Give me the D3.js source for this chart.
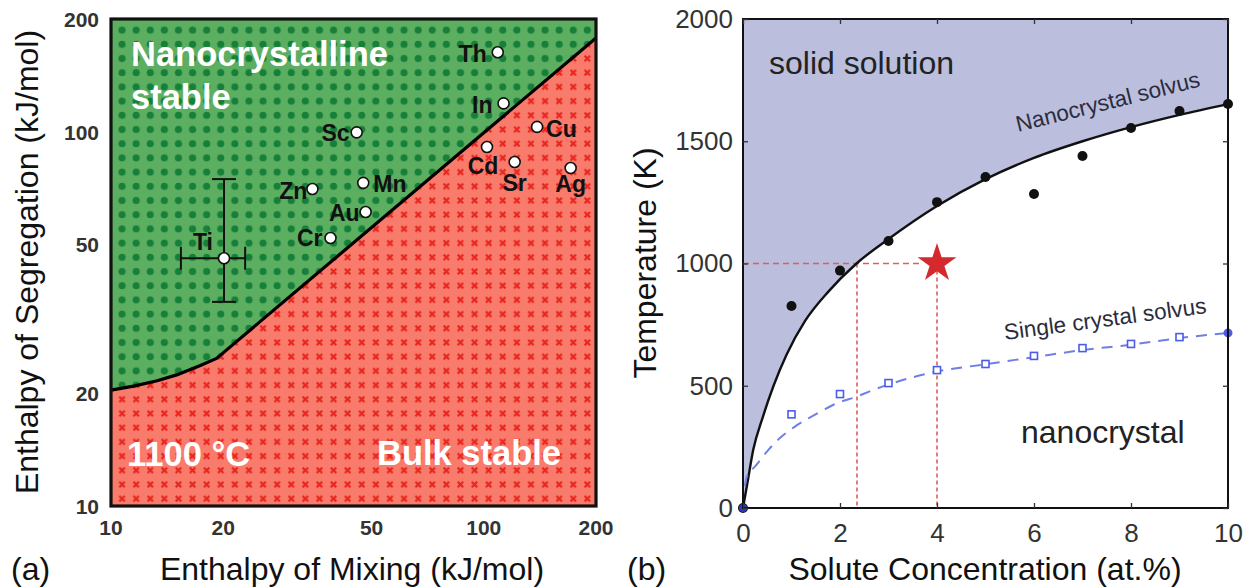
<!DOCTYPE html>
<html>
<head>
<meta charset="utf-8">
<script src="https://cdn.jsdelivr.net/npm/d3@7"></script>
<style>
  html, body { margin: 0; padding: 0; background: #fff; }
  svg { display: block; }
  text { font-family: "Liberation Sans", Arial, Helvetica, sans-serif; }
</style>
</head>
<body>
<svg id="fig" width="1247" height="587"></svg>
<script>
// ---------- Panel (a): stability map at 1100 °C ----------
const mixTicks = [10, 20, 50, 100, 200];
const segTicks = [10, 20, 50, 100, 200];

const elements = ["Th", "In", "Sc", "Cu", "Cd", "Sr", "Ag", "Mn", "Au", "Cr", "Zn", "Ti"];
const mixEnthalpy = [109, 113, 45.6, 139, 102, 121, 171, 47.5, 48.2, 38.8, 34.7, 20.1];
const segEnthalpy = [163, 119, 99.6, 103, 91, 83, 80, 73, 61, 52, 70.3, 45.9];

// uncertainty of the Ti estimate
const tiMixRange = [15.4, 22.9];
const tiSegRange = [35.1, 74.7];

// boundary between the nanocrystalline-stable and bulk-stable regions
const boundaryMix = [10, 11.5, 13.3, 15, 17.3, 19.2, 200];
const boundarySeg = [20.4, 20.9, 21.6, 22.4, 23.7, 24.8, 178];

// ---------- Panel (b): solvus curves ----------
const concTicks = [0, 2, 4, 6, 8, 10];
const tempTicks = [0, 500, 1000, 1500, 2000];

const nanoConc = [0, 1, 2, 3, 4, 5, 6, 7, 8, 9, 10];
const nanoTemp = [0, 826, 971, 1092, 1251, 1354, 1284, 1440, 1554, 1624, 1652];

const singleConc = [1, 2, 3, 4, 5, 6, 7, 8, 9];
const singleTemp = [383, 466, 511, 564, 589, 622, 654, 671, 699];
const singleEndConc = 10, singleEndTemp = 716;

const nanoSolvusConc = [0, 0.09, 0.21, 0.41, 0.63, 0.9, 1.28, 1.76, 2.34, 3, 4, 5, 6, 7, 8, 9, 10];
const nanoSolvusTemp = [0, 101, 237, 373, 500, 628, 765, 885, 1000, 1100, 1235, 1345, 1432, 1500, 1558, 1608, 1652];

const singleSolvusConc = [0.04, 0.08, 0.25, 0.52, 0.76, 1.07, 1.35, 1.65, 1.93, 2.34, 2.65, 3, 4, 5, 6, 7, 8, 9, 10];
const singleSolvusTemp = [90, 128, 170, 237, 286, 333, 367, 400, 428, 455, 480, 505, 558, 588, 617, 646, 668, 695, 716];

const markerConc = 4, markerTemp = 1000;
const crossingConc = 2.35;

// ---------- drawing ----------
const svg = d3.select("#fig");
const defs = svg.append("defs");

// dotted green fill
const pg = defs.append("pattern").attr("id", "greenDots")
  .attr("patternUnits", "userSpaceOnUse").attr("width", 14.1).attr("height", 14.2)
  .attr("x", 115).attr("y", 23);
pg.append("rect").attr("width", 14.1).attr("height", 14.2).attr("fill", "#5cae60");
pg.append("circle").attr("cx", 7.05).attr("cy", 7.1).attr("r", 3.6).attr("fill", "#16803a");

// crossed red fill
const pr = defs.append("pattern").attr("id", "redCross")
  .attr("patternUnits", "userSpaceOnUse").attr("width", 14.1).attr("height", 14.2)
  .attr("x", 115).attr("y", 23);
pr.append("rect").attr("width", 14.1).attr("height", 14.2).attr("fill", "#f97b6c");
pr.append("path").attr("d", "M4.3,4.4L9.8,9.8M9.8,4.4L4.3,9.8")
  .attr("stroke", "#e8251f").attr("stroke-width", 2.1);

defs.append("clipPath").attr("id", "clipA").append("rect")
  .attr("x", 111).attr("y", 19).attr("width", 485).attr("height", 487);
defs.append("clipPath").attr("id", "clipB").append("rect")
  .attr("x", 743).attr("y", 19).attr("width", 485).attr("height", 489);

// ===== Panel (a) =====
const xA = d3.scaleLog().domain([10, 200]).range([111, 596]);
const yA = d3.scaleLog().domain([10, 200]).range([506, 19]);

const gA = svg.append("g");
gA.append("rect").attr("x", 111).attr("y", 19).attr("width", 485).attr("height", 487)
  .attr("fill", "url(#redCross)");

const boundary = boundaryMix.map((m, i) => [m, boundarySeg[i]]);
gA.append("path").datum(boundary)
  .attr("clip-path", "url(#clipA)")
  .attr("fill", "url(#greenDots)")
  .attr("d", d3.area().x(d => xA(d[0])).y0(yA(200)).y1(d => yA(d[1])));
gA.append("path").datum(boundary)
  .attr("fill", "none").attr("stroke", "#000").attr("stroke-width", 3.2)
  .attr("stroke-linejoin", "round")
  .attr("d", d3.line().x(d => xA(d[0])).y(d => yA(d[1])));

// region labels
const whiteBold = sel => sel.attr("fill", "#fff").attr("font-weight", "bold").attr("font-size", 34.5);
gA.append("text").attr("x", 131).attr("y", 66).text("Nanocrystalline").call(whiteBold);
gA.append("text").attr("x", 131).attr("y", 109).text("stable").call(whiteBold);
gA.append("text").attr("x", 127).attr("y", 466).text("1100 °C").call(whiteBold);
gA.append("text").attr("x", 377).attr("y", 465).text("Bulk stable").call(whiteBold);

// Ti error bars
const tiX = xA(mixEnthalpy[11]), tiY = yA(segEnthalpy[11]);
const eb = gA.append("g").attr("stroke", "#111").attr("stroke-width", 2);
eb.append("line").attr("x1", xA(tiMixRange[0])).attr("x2", xA(tiMixRange[1])).attr("y1", tiY).attr("y2", tiY);
eb.append("line").attr("x1", tiX).attr("x2", tiX).attr("y1", yA(tiSegRange[0])).attr("y2", yA(tiSegRange[1]));
tiMixRange.forEach(v => eb.append("line").attr("x1", xA(v)).attr("x2", xA(v)).attr("y1", tiY - 11.5).attr("y2", tiY + 11.5));
tiSegRange.forEach(v => eb.append("line").attr("x1", tiX - 12).attr("x2", tiX + 12).attr("y1", yA(v)).attr("y2", yA(v)));

// element markers and labels
const labelPlacement = {
  Th: { dx: -11, dy: 10, anchor: "end" },
  In: { dx: -11, dy: 10, anchor: "end" },
  Sc: { dx: -7, dy: 9, anchor: "end" },
  Cu: { dx: 9, dy: 10, anchor: "start" },
  Cd: { dx: -4, dy: 27, anchor: "middle" },
  Sr: { dx: 0, dy: 29, anchor: "middle" },
  Ag: { dx: 0, dy: 24, anchor: "middle" },
  Mn: { dx: 10, dy: 9, anchor: "start" },
  Au: { dx: -6, dy: 9, anchor: "end" },
  Cr: { dx: -8, dy: 8, anchor: "end" },
  Zn: { dx: -5, dy: 10, anchor: "end" },
  Ti: { dx: -11, dy: -8, anchor: "end" }
};
elements.forEach((el, i) => {
  const px = xA(mixEnthalpy[i]), py = yA(segEnthalpy[i]);
  const lp = labelPlacement[el];
  gA.append("text").attr("x", px + lp.dx).attr("y", py + lp.dy)
    .attr("text-anchor", lp.anchor).attr("font-weight", "bold").attr("font-size", 23)
    .attr("fill", "#111").text(el);
});
elements.forEach((el, i) => {
  gA.append("circle").attr("cx", xA(mixEnthalpy[i])).attr("cy", yA(segEnthalpy[i])).attr("r", 5.5)
    .attr("fill", "#fff").attr("stroke", "#111").attr("stroke-width", 1.6);
});

// frame
gA.append("rect").attr("x", 111).attr("y", 19).attr("width", 485).attr("height", 487)
  .attr("fill", "none").attr("stroke", "#111").attr("stroke-width", 3.2);

// log axes (labels only)
const axA = gA.append("g").attr("font-weight", "bold").attr("font-size", 21).attr("fill", "#333");
mixTicks.forEach(t => axA.append("text").attr("x", xA(t)).attr("y", 535).attr("text-anchor", "middle").text(t));
segTicks.forEach(t => axA.append("text").attr("x", 99).attr("y", yA(t) + 8).attr("text-anchor", "end").text(t));

const titleStyle = sel => sel.attr("font-size", 32).attr("fill", "#111");
svg.append("text").attr("transform", "translate(38,262) rotate(-90)").attr("text-anchor", "middle")
  .text("Enthalpy of Segregation (kJ/mol)").call(titleStyle);
svg.append("text").attr("x", 352).attr("y", 580).attr("text-anchor", "middle")
  .text("Enthalpy of Mixing (kJ/mol)").call(titleStyle);
svg.append("text").attr("x", 11).attr("y", 580).text("(a)").call(titleStyle);

// ===== Panel (b) =====
const xB = d3.scaleLinear().domain([0, 10]).range([743, 1228]);
const yB = d3.scaleLinear().domain([0, 2000]).range([508, 19]);
const gB = svg.append("g");

const nanoSolvus = nanoSolvusConc.map((c, i) => [c, nanoSolvusTemp[i]]);
const singleSolvus = singleSolvusConc.map((c, i) => [c, singleSolvusTemp[i]]);

gB.append("path").datum(nanoSolvus).attr("clip-path", "url(#clipB)")
  .attr("fill", "#bbbedc")
  .attr("d", d3.area().x(d => xB(d[0])).y0(yB(2000)).y1(d => yB(d[1])).curve(d3.curveMonotoneX));

// guide lines to the marked state
const guide = gB.append("g").attr("stroke", "#d9605c").attr("stroke-width", 1.6).attr("fill", "none");
guide.append("line").attr("x1", xB(0)).attr("x2", xB(markerConc) - 18)
  .attr("y1", yB(markerTemp)).attr("y2", yB(markerTemp)).attr("stroke-dasharray", "6,4");
guide.append("line").attr("x1", xB(crossingConc)).attr("x2", xB(crossingConc))
  .attr("y1", yB(markerTemp)).attr("y2", yB(0)).attr("stroke-dasharray", "4,3");
guide.append("line").attr("x1", xB(markerConc)).attr("x2", xB(markerConc))
  .attr("y1", yB(markerTemp)).attr("y2", yB(0)).attr("stroke-dasharray", "4,3");

gB.append("path").datum(nanoSolvus).attr("fill", "none").attr("stroke", "#111").attr("stroke-width", 2.4)
  .attr("d", d3.line().x(d => xB(d[0])).y(d => yB(d[1])).curve(d3.curveMonotoneX));
gB.append("path").datum(singleSolvus).attr("fill", "none").attr("stroke", "#6f7fe6").attr("stroke-width", 2)
  .attr("stroke-dasharray", "11,8")
  .attr("d", d3.line().x(d => xB(d[0])).y(d => yB(d[1])).curve(d3.curveMonotoneX));

// simulated points
nanoConc.forEach((c, i) => gB.append("circle").attr("cx", xB(c)).attr("cy", yB(nanoTemp[i]))
  .attr("r", 5).attr("fill", "#111"));
singleConc.forEach((c, i) => gB.append("rect")
  .attr("x", xB(c) - 3.5).attr("y", yB(singleTemp[i]) - 3.5).attr("width", 7).attr("height", 7)
  .attr("fill", "#fff").attr("stroke", "#4b5ce6").attr("stroke-width", 1.6));
gB.append("circle").attr("cx", xB(singleEndConc)).attr("cy", yB(singleEndTemp)).attr("r", 4.5).attr("fill", "#4b5ce6");
gB.append("circle").attr("cx", xB(0)).attr("cy", yB(0)).attr("r", 4).attr("fill", "#2b3bc0");

// marked state
gB.append("path").attr("transform", `translate(${xB(markerConc)},${yB(markerTemp)})`)
  .attr("d", d3.symbol(d3.symbolStar, 470)()).attr("fill", "#d42a2e");

// region and curve labels
gB.append("text").attr("x", 769).attr("y", 74).attr("font-size", 32).attr("fill", "#222").text("solid solution");
gB.append("text").attr("x", 1021).attr("y", 443).attr("font-size", 32).attr("fill", "#222").text("nanocrystal");
gB.append("text").attr("transform", "translate(1018,132) rotate(-14)").attr("font-size", 22.5)
  .attr("fill", "#2a2c3c").text("Nanocrystal solvus");
gB.append("text").attr("transform", "translate(1005,340) rotate(-7.6)").attr("font-size", 22.5)
  .attr("fill", "#2a2c3c").text("Single crystal solvus");

// frame and axes
gB.append("rect").attr("x", 743).attr("y", 19).attr("width", 485).attr("height", 489)
  .attr("fill", "none").attr("stroke", "#111").attr("stroke-width", 2);

const fmt = d3.format("d");
const bottomAxis = d3.axisBottom(xB).tickValues(concTicks).tickSizeInner(-5).tickSizeOuter(0).tickPadding(16).tickFormat(fmt);
const leftAxis = d3.axisLeft(yB).tickValues(tempTicks).tickSizeInner(-5).tickSizeOuter(0).tickPadding(10).tickFormat(fmt);
const topAxis = d3.axisTop(xB).tickValues(concTicks).tickSizeInner(-5).tickSizeOuter(0).tickFormat("");
const rightAxis = d3.axisRight(yB).tickValues(tempTicks).tickSizeInner(-5).tickSizeOuter(0).tickFormat("");
[
  [bottomAxis, "translate(0,508)"],
  [leftAxis, "translate(743,0)"],
  [topAxis, "translate(0,19)"],
  [rightAxis, "translate(1228,0)"]
].forEach(([ax, tr]) => {
  const g = gB.append("g").attr("transform", tr).call(ax);
  g.select(".domain").remove();
  g.selectAll(".tick line").attr("stroke", "#333").attr("stroke-width", 1.3);
  g.selectAll(".tick text").attr("font-size", 26).attr("fill", "#333")
    .attr("font-family", "Liberation Sans, Arial, sans-serif");
});

svg.append("text").attr("transform", "translate(656,263) rotate(-90)").attr("text-anchor", "middle")
  .text("Temperature (K)").call(titleStyle);
svg.append("text").attr("x", 985).attr("y", 580).attr("text-anchor", "middle")
  .text("Solute Concentration (at.%)").call(titleStyle);
svg.append("text").attr("x", 627).attr("y", 580).text("(b)").call(titleStyle);
</script>
</body>
</html>
